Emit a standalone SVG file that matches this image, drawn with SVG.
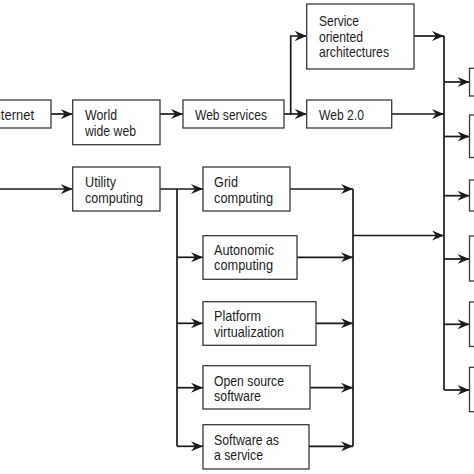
<svg xmlns="http://www.w3.org/2000/svg" width="474" height="474" viewBox="0 0 474 474">
<defs>
<style>
.box{fill:#fff;stroke:#3a3a3a;stroke-width:1.3}
.t{font-family:"Liberation Sans",Arial,sans-serif;font-size:14.5px;fill:#1e1e1e}
.c{fill:none;stroke:#1a1a1a;stroke-width:1.7}
.a{marker-end:url(#ah)}
</style>
<marker id="ah" viewBox="0 0 12 10" refX="12" refY="5" markerWidth="12" markerHeight="10" markerUnits="userSpaceOnUse" orient="auto">
<path d="M0,0 L12,5 L0,10 L4,5 z" fill="#1a1a1a"/>
</marker>
</defs>
<rect width="474" height="474" fill="#fff"/>
<g id="connectors">
<path class="c a" d="M51,114 H72.7"/>
<path class="c a" d="M160,114 H183"/>
<path class="c a" d="M284,114 H306.7"/>
<path class="c a" d="M290.7,114 V36 H306.7"/>
<path class="c a" d="M414,36 H444"/>
<path class="c a" d="M391.7,114 H444"/>
<path class="c" d="M444,36 V390"/>
<path class="c a" d="M444,82 H469.5"/>
<path class="c a" d="M444,136.5 H469.5"/>
<path class="c a" d="M444,195.7 H469.5"/>
<path class="c a" d="M444,259 H469.5"/>
<path class="c a" d="M444,324.3 H469.5"/>
<path class="c a" d="M444,390 H469.5"/>
<path class="c a" d="M0,189 H72.7"/>
<path class="c a" d="M160,189 H203"/>
<path class="c" d="M177,189 V446.3"/>
<path class="c a" d="M177,257.3 H203"/>
<path class="c a" d="M177,323.3 H203"/>
<path class="c a" d="M177,387.7 H203"/>
<path class="c a" d="M177,446.3 H203"/>
<path class="c a" d="M290,189 H353"/>
<path class="c a" d="M297,257.3 H353"/>
<path class="c a" d="M316,323.3 H353"/>
<path class="c a" d="M310,387.7 H353"/>
<path class="c a" d="M309,446.3 H353"/>
<path class="c" d="M353,189 V446.3"/>
<path class="c a" d="M353,235.5 H444"/>
</g>
<g id="internet"><rect class="box" x="-20" y="100" width="71" height="28"/><text class="t" x="-10" y="119.5" textLength="44" lengthAdjust="spacingAndGlyphs">Internet</text></g>
<g id="www"><rect class="box" x="72.7" y="100" width="87.3" height="44.7"/><text class="t" x="85" y="120" textLength="32" lengthAdjust="spacingAndGlyphs">World</text><text class="t" x="85" y="136" textLength="51" lengthAdjust="spacingAndGlyphs">wide web</text></g>
<g id="webservices"><rect class="box" x="183" y="100" width="101" height="28"/><text class="t" x="195" y="119.5" textLength="72" lengthAdjust="spacingAndGlyphs">Web services</text></g>
<g id="soa"><rect class="box" x="306.7" y="4" width="107.3" height="65"/><text class="t" x="319" y="25.7" textLength="40" lengthAdjust="spacingAndGlyphs">Service</text><text class="t" x="319" y="41.7" textLength="44" lengthAdjust="spacingAndGlyphs">oriented</text><text class="t" x="319" y="57.3" textLength="70" lengthAdjust="spacingAndGlyphs">architectures</text></g>
<g id="web20"><rect class="box" x="306.7" y="100" width="85" height="28"/><text class="t" x="319" y="119.5" textLength="45" lengthAdjust="spacingAndGlyphs">Web 2.0</text></g>
<g id="utility"><rect class="box" x="72.7" y="167" width="87.3" height="44"/><text class="t" x="85" y="187.3" textLength="31" lengthAdjust="spacingAndGlyphs">Utility</text><text class="t" x="85" y="202.7" textLength="58" lengthAdjust="spacingAndGlyphs">computing</text></g>
<g id="grid"><rect class="box" x="203" y="167" width="87" height="44"/><text class="t" x="214" y="187.3" textLength="24" lengthAdjust="spacingAndGlyphs">Grid</text><text class="t" x="214" y="202.7" textLength="59" lengthAdjust="spacingAndGlyphs">computing</text></g>
<g id="autonomic"><rect class="box" x="203" y="235.7" width="94" height="43.6"/><text class="t" x="214" y="254.7" textLength="60" lengthAdjust="spacingAndGlyphs">Autonomic</text><text class="t" x="214" y="270.2" textLength="59" lengthAdjust="spacingAndGlyphs">computing</text></g>
<g id="platform"><rect class="box" x="203" y="301.7" width="113" height="43.6"/><text class="t" x="214" y="321.3" textLength="47" lengthAdjust="spacingAndGlyphs">Platform</text><text class="t" x="214" y="336.5" textLength="70" lengthAdjust="spacingAndGlyphs">virtualization</text></g>
<g id="opensource"><rect class="box" x="203" y="365.7" width="107" height="43.3"/><text class="t" x="214" y="385.7" textLength="70" lengthAdjust="spacingAndGlyphs">Open source</text><text class="t" x="214" y="400.7" textLength="47" lengthAdjust="spacingAndGlyphs">software</text></g>
<g id="saas"><rect class="box" x="203" y="424.7" width="106" height="44.3"/><text class="t" x="214" y="444.7" textLength="65" lengthAdjust="spacingAndGlyphs">Software as</text><text class="t" x="214" y="459.7" textLength="49" lengthAdjust="spacingAndGlyphs">a service</text></g>
<g id="r1"><rect class="box" x="469.5" y="68.3" width="40" height="27.7"/></g>
<g id="r2"><rect class="box" x="469.5" y="115" width="40" height="42.5"/></g>
<g id="r3"><rect class="box" x="469.5" y="180" width="40" height="31"/></g>
<g id="r4"><rect class="box" x="469.5" y="236" width="40" height="45"/></g>
<g id="r5"><rect class="box" x="469.5" y="302" width="40" height="44.5"/></g>
<g id="r6"><rect class="box" x="469.5" y="367.3" width="40" height="44.4"/></g>
</svg>
